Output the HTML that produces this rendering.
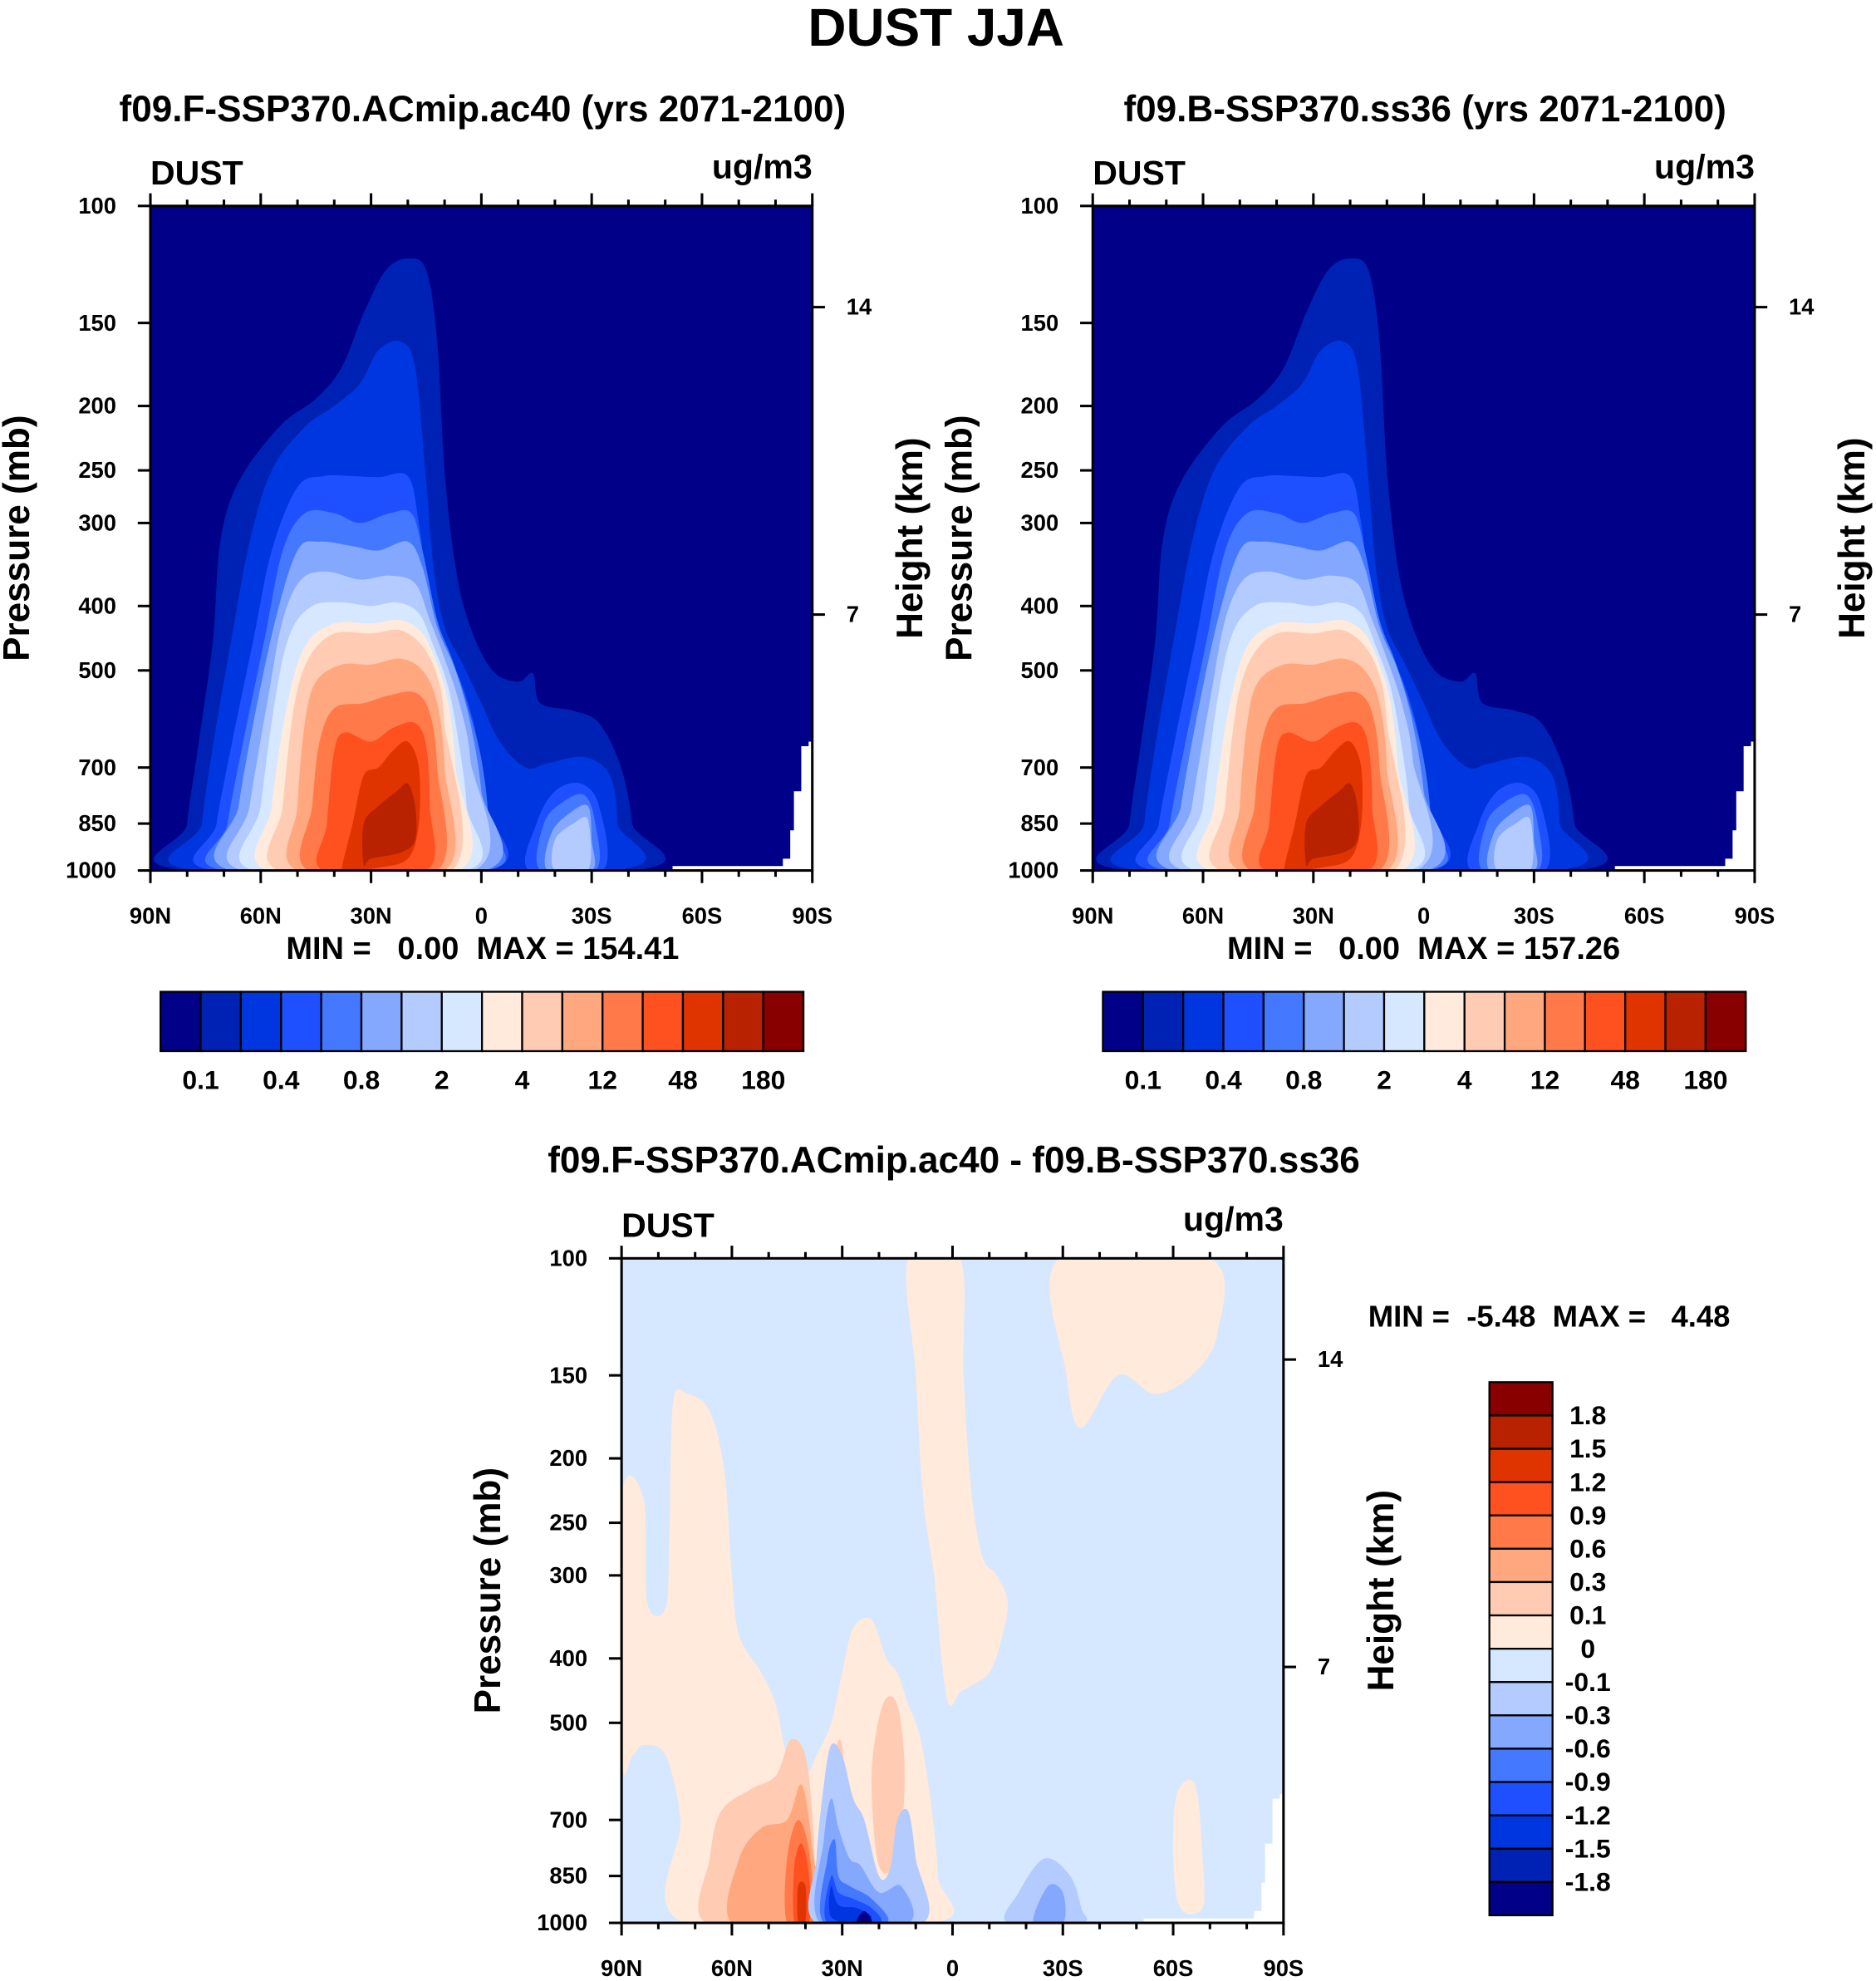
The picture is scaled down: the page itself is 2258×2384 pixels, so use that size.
<!DOCTYPE html>
<html><head><meta charset="utf-8"><style>
html,body{margin:0;padding:0;background:#fff}
svg{display:block;font-family:"Liberation Sans",Arial,sans-serif;font-weight:bold}
text{white-space:pre}
</style></head><body>
<svg id="fig" width="2258" height="2384" viewBox="0 0 1485 1568" xmlns="http://www.w3.org/2000/svg">
<text x="741" y="36" font-size="42" text-anchor="middle">DUST JJA</text>
</svg>
<script>
const colors=["#000088","#0022b4","#0036e0","#1e50ff","#4478ff","#85a8ff","#b3cbff","#d6e8ff","#ffeadb","#ffcbb2","#ffa880","#ff7a48","#ff5020","#e03400","#b82200","#880000"];
const absLabels=["0.1","0.4","0.8","2","4","12","48","180"];
const diffLabels=["1.8","1.5","1.2","0.9","0.6","0.3","0.1","0","-0.1","-0.3","-0.6","-0.9","-1.2","-1.5","-1.8"];
const pTicks=[100,150,200,250,300,400,500,700,850,1000];
const latTicks=[90,60,30,0,-30,-60,-90];
const latLabels=["90N","60N","30N","0","30S","60S","90S"];
const kmTicks=[14,7];
const kmPressure=[142,412];
const absLevels=[
[1,[[80,1000],[80,850],[77,650],[73,450],[71,320],[66,260],[55,215],[45,195],[38,175],[32,145],[26,125],[20,120],[15,125],[12,160],[10,250],[7,350],[3,430],[-3,500],[-10,520],[-14,505],[-16,560],[-25,575],[-32,600],[-38,700],[-41,850],[-41,1000]]],
[2,[[77,1000],[76,850],[73,650],[68,450],[63,320],[57,250],[48,215],[40,200],[33,185],[28,165],[22,160],[18,175],[15,260],[13,350],[10,430],[5,490],[0,560],[-5,640],[-12,700],[-18,690],[-28,675],[-35,720],[-37,850],[-36,1000]]],
[3,[[73,1000],[72,850],[68,650],[62,450],[57,330],[50,265],[43,255],[35,255],[28,256],[20,255],[17,300],[14,400],[10,460],[5,530],[1,640],[-1,800],[-2,1000]]],
[3,[[-13,1000],[-15,850],[-20,760],[-27,740],[-32,800],[-33,1000]]],
[4,[[70,1000],[69,850],[65,650],[59,450],[54,330],[48,290],[40,290],[33,300],[25,290],[19,290],[16,330],[12,420],[8,480],[4,560],[0,680],[-2,850],[-1,1000]]],
[4,[[-16,1000],[-17,850],[-22,790],[-28,770],[-31,850],[-31,1000]]],
[5,[[68,1000],[66,800],[62,600],[56,420],[50,330],[44,320],[35,325],[28,330],[20,320],[16,350],[12,430],[7,500],[3,600],[0,760],[-1,1000]]],
[5,[[-18,1000],[-19,880],[-24,820],[-29,800],[-30,900],[-30,1000]]],
[6,[[65,1000],[63,800],[58,550],[54,420],[49,365],[42,355],[33,365],[25,360],[18,370],[14,420],[10,480],[6,560],[3,680],[2,1000]]],
[6,[[-20,1000],[-20,900],[-25,850],[-29,840],[-29,1000]]],
[7,[[62,1000],[60,800],[56,550],[52,440],[46,400],[38,395],[30,400],[23,395],[17,410],[13,460],[9,530],[6,650],[4,800],[4,1000]]],
[8,[[58,1000],[57,800],[53,570],[48,460],[40,425],[30,425],[22,420],[16,440],[12,490],[9,560],[7,700],[6,1000]]],
[9,[[55,1000],[54,800],[51,570],[47,480],[40,440],[30,440],[22,435],[16,460],[12,510],[10,600],[8,1000]]],
[10,[[50,1000],[50,800],[48,600],[45,520],[38,490],[30,490],[22,480],[16,500],[12,560],[10,700],[10,1000]]],
[11,[[47,1000],[46,800],[44,640],[40,570],[32,560],[25,545],[18,540],[14,580],[12,700],[12,1000]]],
[12,[[43,1000],[42,850],[40,660],[37,620],[30,640],[24,610],[18,600],[15,650],[14,800],[15,1000]]],
[13,[[38,1000],[35,850],[32,720],[28,700],[24,660],[20,640],[17,700],[17,850],[20,960],[28,990],[36,1000]]],
[14,[[32,980],[32,850],[28,800],[23,760],[20,740],[18,800],[18,900],[22,940],[30,960]]]
];
const missing=[[-52,1000],[-52,985],[-82,985],[-82,960],[-84,960],[-84,870],[-85,870],[-85,760],[-87,760],[-87,650],[-89,650],[-89,640],[-90,640],[-90,1000]];
const diffLevels=[
[8,[[90,230],[84,230],[83,330],[78,335],[77,260],[76,165],[72,160],[66,170],[62,210],[60,300],[58,370],[52,420],[48,470],[45,560],[40,600],[37,560],[33,500],[30,420],[27,360],[22,350],[18,400],[15,420],[12,470],[9,520],[6,650],[4,850],[5,1000],[73,1000],[74,700],[78,560],[84,540],[87,560],[90,560]]],
[8,[[12,100],[-2,100],[-3,150],[-5,220],[-8,280],[-12,300],[-15,330],[-13,380],[-10,420],[-5,440],[-2,450],[1,470],[3,400],[5,300],[8,230],[10,150]]],
[8,[[-29,100],[-70,100],[-72,130],[-65,150],[-55,160],[-45,150],[-35,180],[-31,150]]],
[8,[[-61,640],[-66,620],[-68,800],[-68,950],[-62,950],[-60,800]]],
[9,[[67,1000],[66,800],[63,680],[55,630],[48,600],[44,530],[40,560],[38,700],[37,900],[35,1000]]],
[9,[[34,1000],[33,750],[32,560],[30,540],[29,700],[28,900],[28,1000]]],
[9,[[20,820],[22,600],[19,470],[15,470],[13,600],[15,800]]],
[10,[[60,1000],[58,800],[52,720],[45,700],[41,620],[38,780],[37,1000]]],
[10,[[33,950],[32,700],[30,650],[29,800],[30,950]]],
[11,[[45,1000],[45,800],[42,700],[39,780],[38,1000]]],
[12,[[43,1000],[43,820],[41,760],[39,850],[39,1000]]],
[13,[[42,995],[42,880],[40,880],[40,995]]],
[13,[[31,920],[31,820],[30,820],[30,920]]],
[6,[[37,1000],[37,800],[35,620],[33,540],[30,560],[27,650],[24,700],[20,850],[17,830],[15,700],[12,680],[10,800],[8,1000]]],
[6,[[-15,1000],[-18,900],[-25,800],[-32,850],[-35,950],[-35,1000]]],
[5,[[36,1000],[35,750],[33,650],[31,720],[28,800],[25,820],[20,900],[14,880],[12,1000]]],
[5,[[-22,1000],[-26,880],[-30,900],[-30,1000]]],
[4,[[35,1000],[34,800],[32,750],[31,850],[28,880],[22,920],[18,1000]]],
[3,[[34,1000],[33,850],[31,900],[27,920],[22,950],[20,1000]]],
[2,[[33,980],[33,880],[31,940],[26,950],[22,980],[26,1000]]],
[0,[[26,995],[24,960],[22,995]]]
];
const NS="http://www.w3.org/2000/svg";
const svg=document.getElementById('fig');
function mk(tag,attrs,parent,text){const e=document.createElementNS(NS,tag);for(const k in attrs)e.setAttribute(k,attrs[k]);if(text!==undefined)e.textContent=text;(parent||svg).appendChild(e);return e;}
function smoothPath(pts){const n=pts.length;let d=`M${pts[0][0]},${pts[0][1]}`;for(let i=0;i<n;i++){const p0=pts[(i-1+n)%n],p1=pts[i],p2=pts[(i+1)%n],p3=pts[(i+2)%n];const c1=[p1[0]+(p2[0]-p0[0])/6,p1[1]+(p2[1]-p0[1])/6],c2=[p2[0]-(p3[0]-p1[0])/6,p2[1]-(p3[1]-p1[1])/6];d+=`C${c1[0]},${c1[1]} ${c2[0]},${c2[1]} ${p2[0]},${p2[1]}`;}return d+'Z';}
function panel(L,T,W,H,bgIdx,levels,hasMissing,name){
  const xs=lat=>L+(90-lat)/180*W, ys=p=>T+Math.log10(p/100)*H;
  const g=mk('g',{});
  
  
  const cid='clip-'+name;
  const cp=mk('clipPath',{id:cid},g);mk('rect',{x:L,y:T,width:W,height:H},cp);
  const bg=mk('rect',{x:L,y:T,width:W,height:H,fill:colors[bgIdx]},g);
  
  
  const cg=mk('g',{'clip-path':`url(#${cid})`},g);
  levels.forEach(([lv,pts])=>{
    const path=mk('path',{d:smoothPath(pts.map(q=>[xs(q[0]),ys(q[1])])),fill:colors[lv]},cg);
    
    
  });
  if(hasMissing){const m=mk('polygon',{points:missing.map(q=>xs(q[0])+','+ys(q[1])).join(' '),fill:'#fff'},cg);
    
    }
  mk('rect',{x:L,y:T,width:W,height:H,fill:'none',stroke:'#000','stroke-width':2},g);
  pTicks.forEach(p=>{const y=ys(p);mk('line',{x1:L-10,x2:L,y1:y,y2:y,stroke:'#000','stroke-width':2},g);
    const t=mk('text',{x:L-27,y:y+6,'font-size':18,'text-anchor':'end'},g,String(p));
    
    });
  for(let lat=90;lat>=-90;lat-=10){const x=xs(lat),maj=lat%30===0,len=maj?10:5;
    mk('line',{x1:x,x2:x,y1:T,y2:T-len,stroke:'#000','stroke-width':2},g);
    mk('line',{x1:x,x2:x,y1:T+H,y2:T+H+len,stroke:'#000','stroke-width':2},g);}
  latTicks.forEach((lat,i)=>{const t=mk('text',{x:xs(lat),y:T+H+42,'font-size':18,'text-anchor':'middle'},g,latLabels[i]);
    
    });
  kmTicks.forEach((k,i)=>{const y=ys(kmPressure[i]);mk('line',{x1:L+W,x2:L+W+10,y1:y,y2:y,stroke:'#000','stroke-width':2},g);
    const t=mk('text',{x:L+W+27,y:y+6,'font-size':18},g,String(k));
    
    });
  const d=mk('text',{x:L,y:T-17,'font-size':27},g,'DUST');
  
  
  const u=mk('text',{x:L+W,y:T-22,'font-size':27,'text-anchor':'end'},g,'ug/m3');
  
  
  const yl=mk('text',{transform:`translate(${L-96},${T+H/2}) rotate(-90)`,'font-size':29,'text-anchor':'middle'},g,'Pressure (mb)');
  
  
  const hl=mk('text',{transform:`translate(${L+W+87},${T+H/2}) rotate(-90)`,'font-size':29,'text-anchor':'middle'},g,'Height (km)');
  
  
}
function hbar(L,T,W,H,name){
  const g=mk('g',{});
  
  
  const bw=W/colors.length;
  colors.forEach((c,i)=>{const r=mk('rect',{x:L+i*bw,y:T,width:bw,height:H,fill:c,stroke:'#000','stroke-width':1.5},g);
    
    });
  absLabels.forEach((s,i)=>{const t=mk('text',{x:L+(2*i+1)*bw,y:T+H+30,'font-size':21,'text-anchor':'middle'},g,s);
    
    });
}
function titleText(x,y,s,size,name){const t=mk('text',{x:x,y:y,'font-size':size,'text-anchor':'middle'});t.textContent=s;
  
  }
titleText(382,96,'f09.F-SSP370.ACmip.ac40 (yrs 2071-2100)',29,'left-panel-title');
titleText(1128,96,'f09.B-SSP370.ss36 (yrs 2071-2100)',29,'right-panel-title');
panel(119,163,524,526,0,absLevels,true,'left-panel');
panel(865,163,524,526,0,absLevels,true,'right-panel');
titleText(382,759,'MIN =   0.00  MAX = 154.41',25,'left-minmax');
titleText(1127,759,'MIN =   0.00  MAX = 157.26',25,'right-minmax');
hbar(127,785,509,47,'left-colorbar');
hbar(873,785,509,47,'right-colorbar');
titleText(755,928,'f09.F-SSP370.ACmip.ac40 - f09.B-SSP370.ss36',29,'diff-panel-title');
panel(492,996,524,526,7,diffLevels,true,'diff-panel');
(function(){const t=mk('text',{x:1083,y:1050,'font-size':24},svg,'MIN =  -5.48  MAX =   4.48');
  
  
  const g=mk('g',{});
  
  
  const L=1179,T=1094,W=50,H=422,bh=H/16;
  colors.slice().reverse().forEach((c,i)=>{const r=mk('rect',{x:L,y:T+i*bh,width:W,height:bh,fill:c,stroke:'#000','stroke-width':1.5},g);
    
    });
  diffLabels.forEach((s,i)=>{const t2=mk('text',{x:1257,y:T+(i+1)*bh+7,'font-size':21,'text-anchor':'middle'},g,s);
    
    });
})();
</script>
</body></html>
